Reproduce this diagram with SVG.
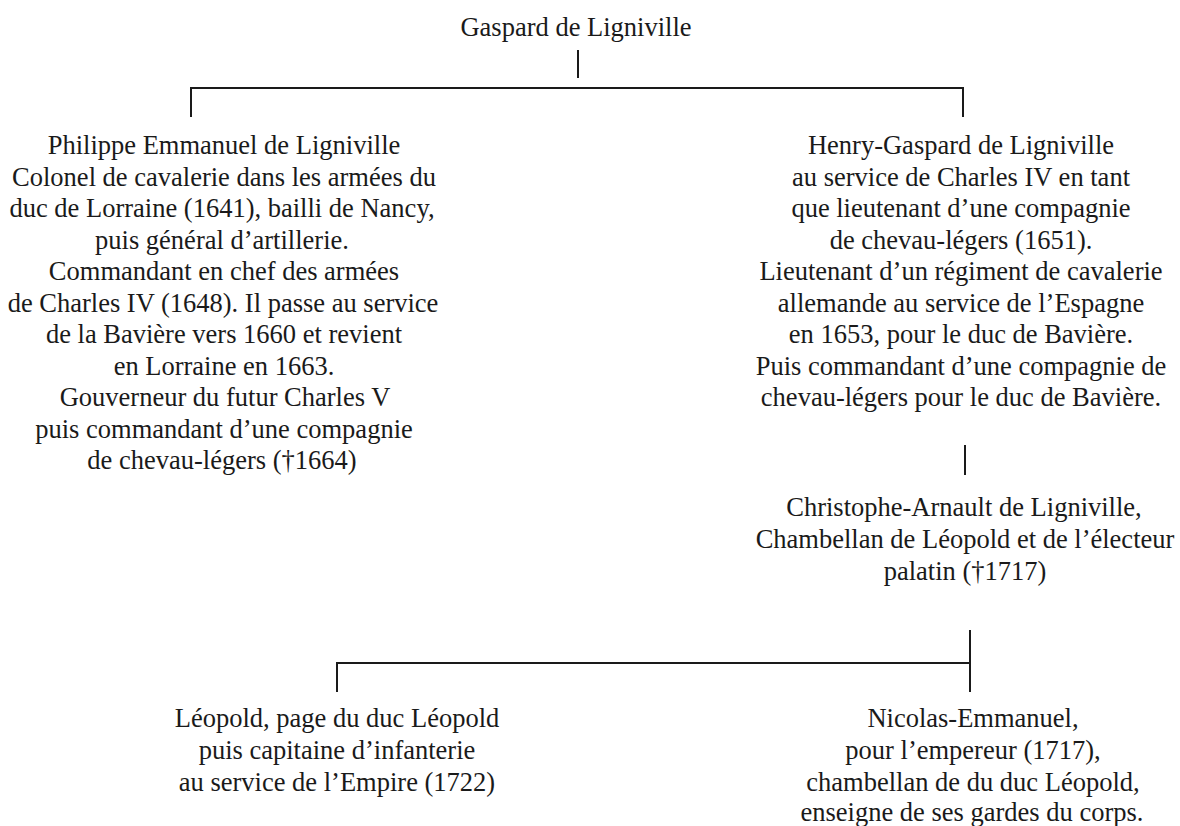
<svg xmlns="http://www.w3.org/2000/svg" width="1180" height="826" viewBox="0 0 1180 826">
<style>
.c{stroke:#1a1a1a;stroke-width:2;fill:none}
</style>
<rect width="1180" height="826" fill="#fff"/>
<g id="connectors">
<path class="c" d="M578,50V78"/>
<path class="c" d="M191,117V88H963V117"/>
<path class="c" d="M965,445V475"/>
<path class="c" d="M970,630V692M337,692V663H970"/>
</g>
<g font-family="Liberation Serif, serif" font-size="26.5" fill="#1a1a1a" text-anchor="middle">
<g id="gaspard"><text x="576" y="36">Gaspard de Ligniville</text></g>
<g id="philippe">
<text x="224" y="154">Philippe Emmanuel de Ligniville</text>
<text x="224" y="185.5">Colonel de cavalerie dans les armées du</text>
<text x="222" y="217">duc de Lorraine (1641), bailli de Nancy,</text>
<text x="222" y="248.5">puis général d’artillerie.</text>
<text x="224" y="280">Commandant en chef des armées</text>
<text x="223" y="311.5">de Charles IV (1648). Il passe au service</text>
<text x="224" y="343">de la Bavière vers 1660 et revient</text>
<text x="224" y="374.5">en Lorraine en 1663.</text>
<text x="225" y="406">Gouverneur du futur Charles V</text>
<text x="224" y="437.5">puis commandant d’une compagnie</text>
<text x="222" y="469">de chevau-légers (†1664)</text>
</g>
<g id="henry">
<text x="961" y="154">Henry-Gaspard de Ligniville</text>
<text x="961" y="185.5">au service de Charles IV en tant</text>
<text x="961" y="217">que lieutenant d’une compagnie</text>
<text x="961" y="248.5">de chevau-légers (1651).</text>
<text x="961" y="280">Lieutenant d’un régiment de cavalerie</text>
<text x="961" y="311.5">allemande au service de l’Espagne</text>
<text x="961" y="343">en 1653, pour le duc de Bavière.</text>
<text x="961" y="374.5">Puis commandant d’une compagnie de</text>
<text x="961" y="406">chevau-légers pour le duc de Bavière.</text>
</g>
<g id="christophe">
<text x="964" y="516">Christophe-Arnault de Ligniville,</text>
<text x="965" y="548">Chambellan de Léopold et de l’électeur</text>
<text x="965" y="580">palatin (†1717)</text>
</g>
<g id="leopold">
<text x="337" y="727">Léopold, page du duc Léopold</text>
<text x="337" y="759">puis capitaine d’infanterie</text>
<text x="337" y="791">au service de l’Empire (1722)</text>
</g>
<g id="nicolas">
<text x="973" y="727">Nicolas-Emmanuel,</text>
<text x="973" y="759">pour l’empereur (1717),</text>
<text x="973" y="791">chambellan de du duc Léopold,</text>
<text x="972" y="821">enseigne de ses gardes du corps.</text>
</g>
</g>
</svg>
